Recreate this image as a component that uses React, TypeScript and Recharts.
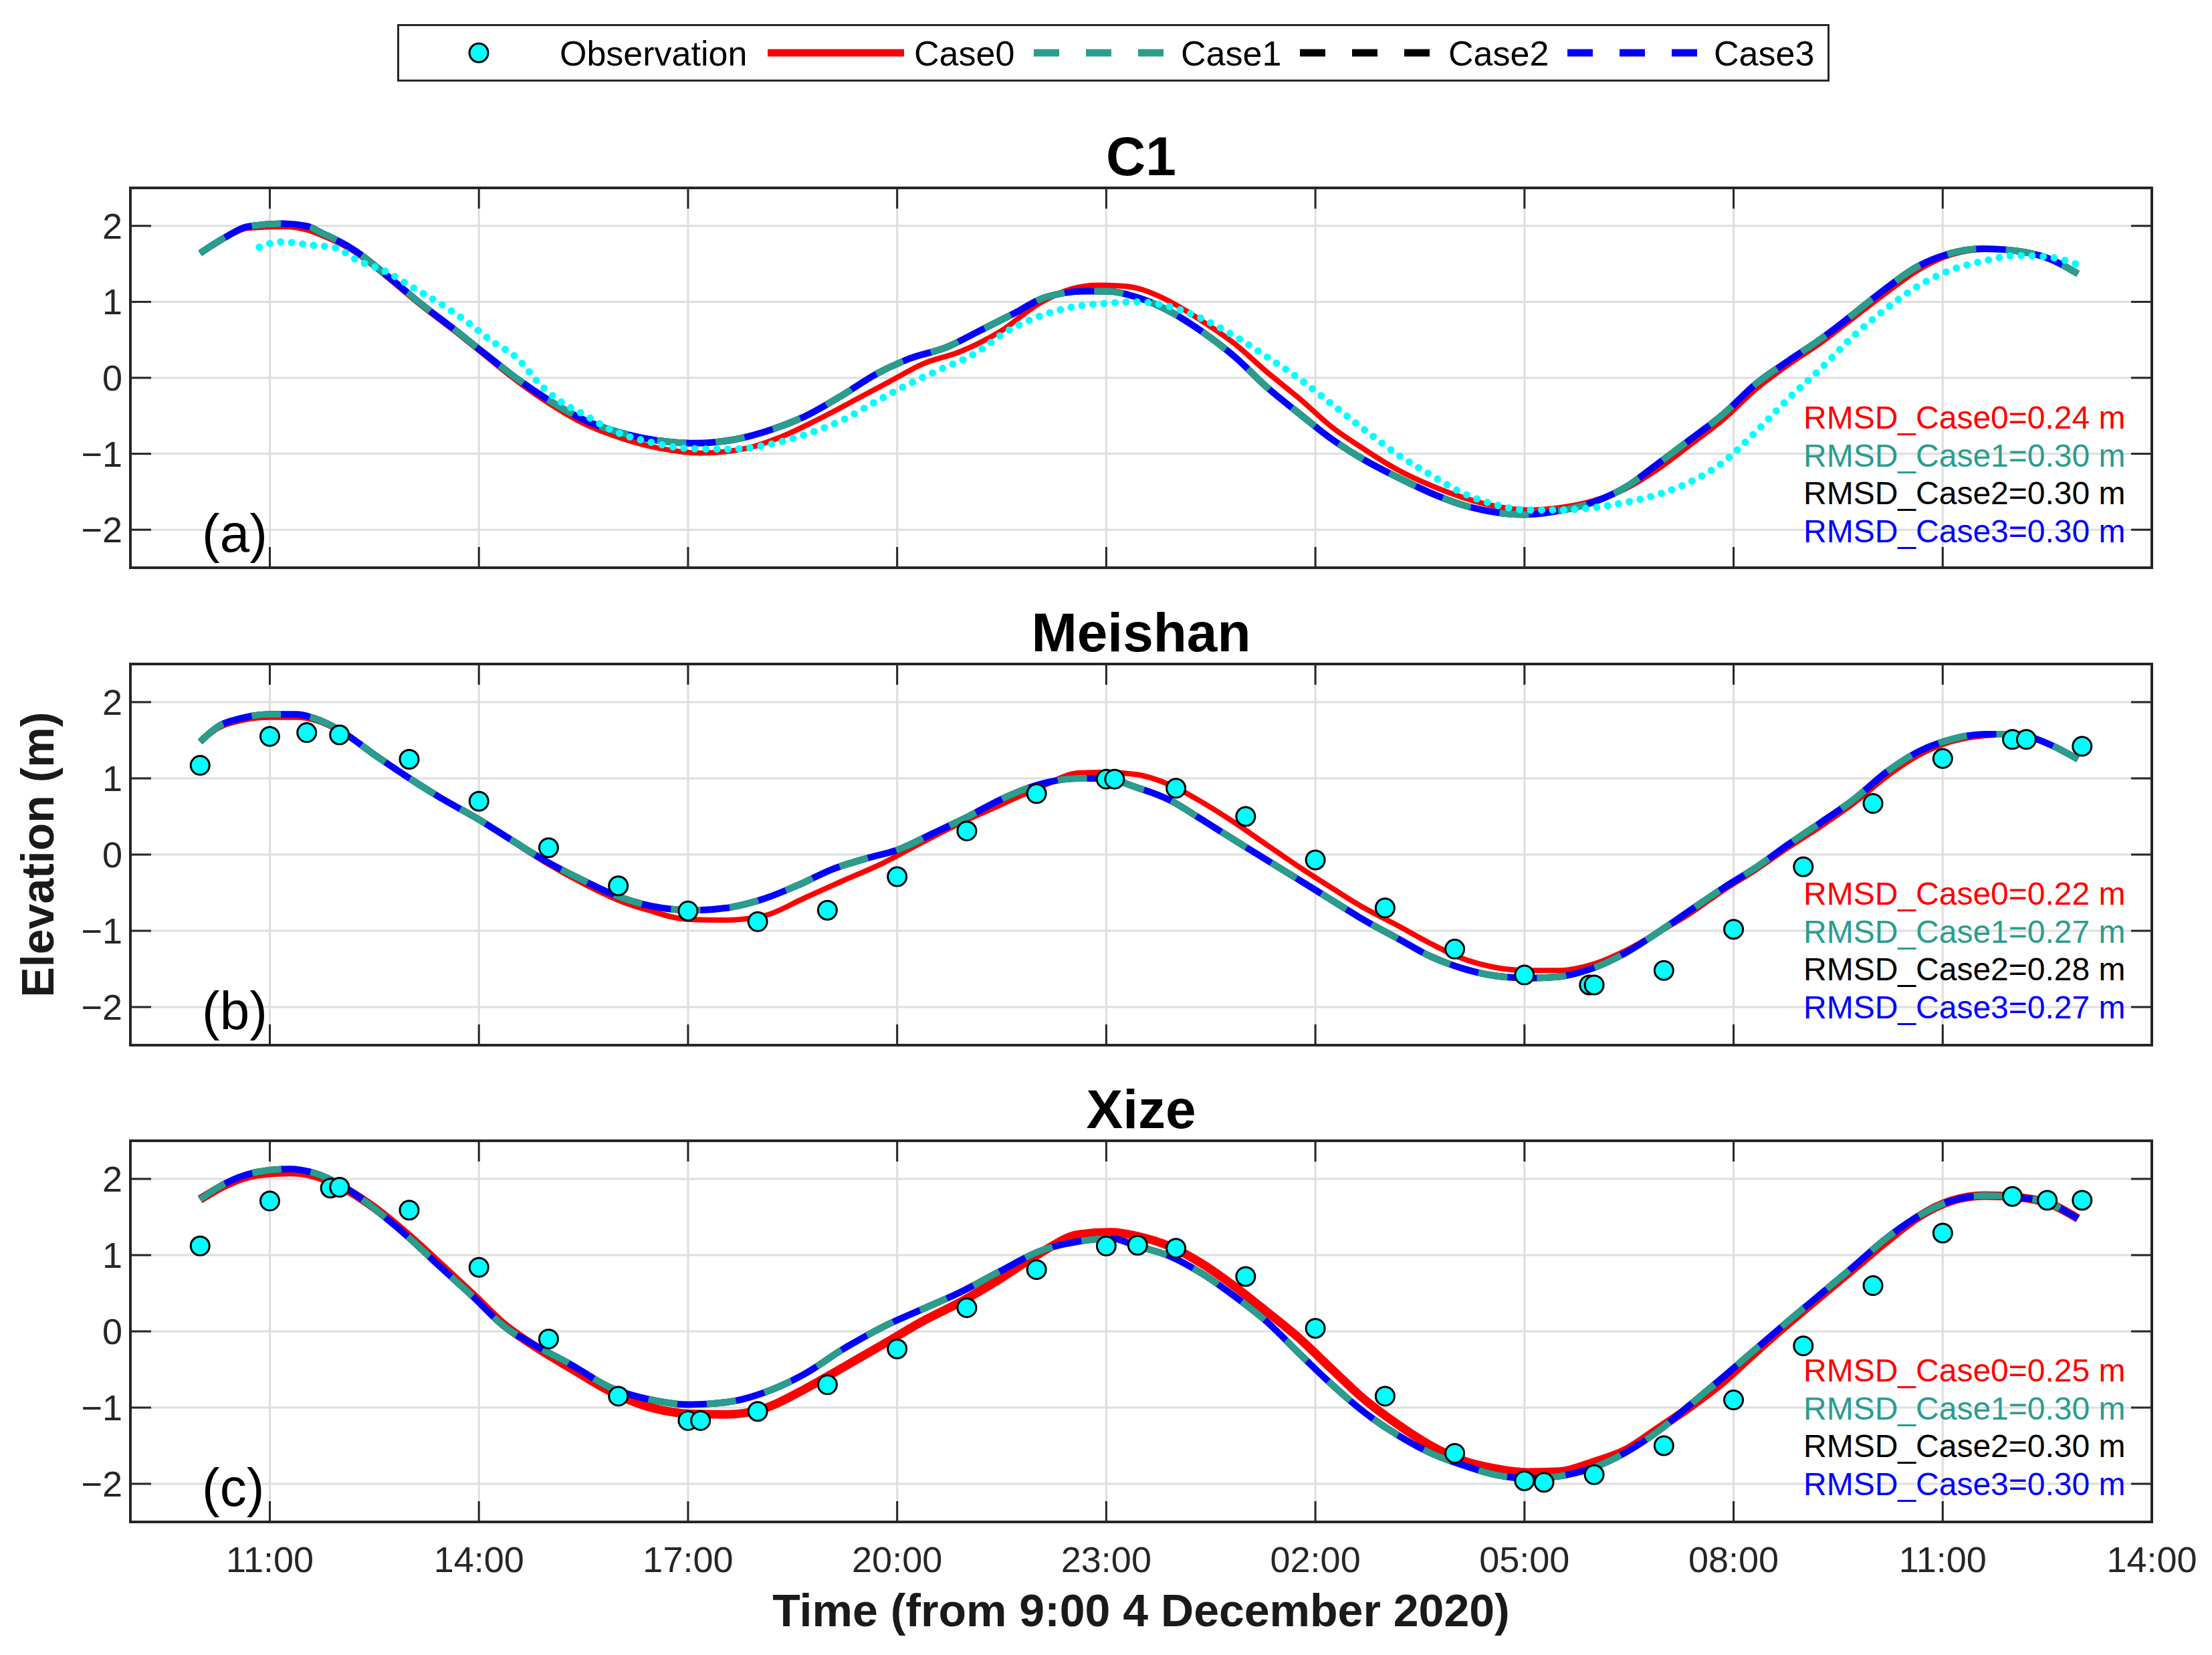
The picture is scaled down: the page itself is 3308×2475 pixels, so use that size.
import React from 'react';
import { ComposedChart, Line, XAxis, YAxis, CartesianGrid, Legend } from 'recharts';

const FONT = '"Liberation Sans", Arial, Helvetica, sans-serif';
const AXIS = '#262626';
const GRID = '#dedede';
const RED = '#ff0000';
const TEAL = '#2a9d8f';
const BLUE = '#0000ff';
const BLACK = '#000000';
const CYAN = '#00ffff';
const CASE_COLORS = [RED, TEAL, BLACK, BLUE];

// ---- axes (x = hours since 09:00 4 December 2020) ----
const X_TICKS = [2, 5, 8, 11, 14, 17, 20, 23, 26, 29];
const X_TICK_LABELS = ['11:00', '14:00', '17:00', '20:00', '23:00', '02:00', '05:00', '08:00', '11:00', '14:00'];
const Y_TICKS = [-2, -1, 0, 1, 2];
const Y_TICK_LABELS = ['\u22122', '\u22121', '0', '1', '2'];

const SERIES_NAMES = ['Observation', 'Case0', 'Case1', 'Case2', 'Case3'];
const PANEL_TITLES = ['C1', 'Meishan', 'Xize'];
const PANEL_TAGS = ['(a)', '(b)', '(c)'];
const RMSD_A = ['0.24', '0.30', '0.30', '0.30'];
const RMSD_B = ['0.22', '0.27', '0.28', '0.27'];
const RMSD_C = ['0.25', '0.30', '0.30', '0.30'];

// ---- (a) C1 ----
const A_T = [1, 1.36, 1.68, 2.2, 2.52, 2.76, 3.18, 3.69, 4.16, 4.63, 5, 5.56, 6.03, 6.5, 7.06, 7.6, 8.08, 8.55, 9.1, 9.67, 10.23, 10.7, 11.17, 11.73, 12.1, 12.66, 13.13, 13.69, 14, 14.44, 14.9, 15.37, 15.84, 16.3, 16.78, 17.24, 17.7, 18.18, 18.64, 19.1, 19.58, 20, 20.5, 20.98, 21.45, 21.9, 22.38, 22.85, 23.32, 23.78, 24.25, 24.72, 25.19, 25.65, 26.12, 26.6, 27.06, 27.52, 27.94];
const A_CASE1 = [1.64, 1.85, 1.99, 2.03, 2.0, 1.9, 1.7, 1.34, 0.98, 0.65, 0.38, -0.02, -0.31, -0.55, -0.73, -0.83, -0.86, -0.83, -0.71, -0.51, -0.22, 0.05, 0.25, 0.41, 0.58, 0.84, 1.06, 1.14, 1.14, 1.06, 0.88, 0.61, 0.28, -0.12, -0.48, -0.81, -1.08, -1.31, -1.51, -1.67, -1.77, -1.8, -1.75, -1.64, -1.44, -1.14, -0.81, -0.48, -0.08, 0.22, 0.51, 0.84, 1.18, 1.47, 1.64, 1.7, 1.67, 1.57, 1.37];
// Case2 and Case3 cannot be told apart from Case1 in the figure
const A_CASE2 = A_CASE1;
const A_CASE3 = A_CASE1;
const A_T0 = [1, 1.36, 1.68, 2.2, 2.52, 2.76, 3.18, 3.69, 4.16, 4.63, 5, 5.56, 6.03, 6.5, 7.06, 7.6, 8.18, 8.83, 9.3, 9.86, 10.42, 10.89, 11.36, 11.92, 12.48, 13.04, 13.5, 13.88, 14.2, 14.44, 14.9, 15.37, 15.84, 16.3, 16.78, 17.24, 17.7, 18.18, 18.64, 19.1, 19.58, 20.05, 20.5, 20.98, 21.45, 21.9, 22.38, 22.85, 23.32, 23.78, 24.25, 24.72, 25.19, 25.65, 26.12, 26.6, 27.06, 27.52, 27.94];
const A_CASE0 = [1.64, 1.84, 1.97, 1.99, 1.95, 1.87, 1.68, 1.32, 0.96, 0.63, 0.36, -0.05, -0.35, -0.6, -0.8, -0.93, -0.99, -0.93, -0.79, -0.55, -0.28, -0.05, 0.18, 0.35, 0.61, 0.98, 1.17, 1.22, 1.21, 1.18, 1.01, 0.75, 0.45, 0.08, -0.28, -0.65, -0.94, -1.21, -1.41, -1.57, -1.69, -1.74, -1.71, -1.62, -1.46, -1.21, -0.88, -0.55, -0.15, 0.17, 0.46, 0.79, 1.12, 1.42, 1.62, 1.69, 1.67, 1.57, 1.37];
const A_OBS_T = [1.85, 2.15, 2.57, 2.94, 3.27, 3.64, 4.07, 4.44, 4.81, 5.19, 5.56, 5.84, 6.12, 6.5, 6.96, 7.43, 8.0, 8.55, 9.1, 9.67, 10.23, 10.7, 11.17, 11.64, 12.1, 12.57, 13.04, 13.5, 14.0, 14.44, 14.9, 15.37, 15.84, 16.3, 16.78, 17.24, 17.7, 18.18, 18.64, 19.1, 19.58, 20.05, 20.5, 20.98, 21.45, 21.9, 22.38, 22.85, 23.32, 23.78, 24.25, 24.72, 25.19, 25.65, 26.12, 26.6, 27.06, 27.52, 27.94];
const A_OBS = [1.72, 1.79, 1.75, 1.71, 1.54, 1.41, 1.18, 0.98, 0.75, 0.48, 0.25, -0.05, -0.28, -0.48, -0.71, -0.84, -0.93, -0.94, -0.89, -0.75, -0.55, -0.31, -0.08, 0.12, 0.31, 0.61, 0.81, 0.93, 0.98, 1.0, 0.94, 0.78, 0.55, 0.28, -0.02, -0.35, -0.68, -1.01, -1.27, -1.51, -1.67, -1.74, -1.74, -1.71, -1.64, -1.54, -1.37, -1.11, -0.71, -0.28, 0.12, 0.55, 0.91, 1.21, 1.42, 1.54, 1.61, 1.59, 1.49];

// ---- (b) Meishan ----
const B_T = [1, 1.26, 1.6, 2.0, 2.38, 2.66, 3.04, 3.5, 3.97, 4.44, 5, 5.47, 5.93, 6.5, 7.06, 7.62, 8.08, 8.55, 9.02, 9.58, 10.05, 10.6, 11, 11.54, 12.0, 12.48, 13.04, 13.6, 13.97, 14.44, 14.9, 15.37, 15.84, 16.3, 16.78, 17.24, 17.7, 18.18, 18.64, 19.1, 19.58, 20.05, 20.5, 20.98, 21.45, 21.9, 22.38, 22.85, 23.32, 23.78, 24.25, 24.72, 25.19, 25.65, 26.12, 26.6, 27.06, 27.52, 27.94];
const B_CASE1 = [1.48, 1.68, 1.79, 1.84, 1.84, 1.78, 1.61, 1.31, 1.02, 0.75, 0.46, 0.19, -0.07, -0.34, -0.57, -0.7, -0.73, -0.7, -0.6, -0.4, -0.2, -0.04, 0.06, 0.29, 0.49, 0.72, 0.92, 1.0, 1.0, 0.88, 0.72, 0.46, 0.19, -0.07, -0.34, -0.6, -0.86, -1.1, -1.33, -1.49, -1.59, -1.62, -1.6, -1.49, -1.29, -1.03, -0.73, -0.44, -0.17, 0.13, 0.42, 0.72, 1.08, 1.35, 1.51, 1.58, 1.58, 1.45, 1.25];
const B_CASE2 = B_CASE1;
const B_CASE3 = B_CASE1;
const B_T0 = [1, 1.26, 1.6, 2.0, 2.38, 2.66, 3.04, 3.5, 3.97, 4.44, 5, 5.47, 5.93, 6.5, 7.06, 7.43, 8.0, 8.55, 9.1, 9.67, 10.23, 10.8, 11.36, 11.92, 12.48, 13.04, 13.6, 13.97, 14.44, 14.9, 15.37, 15.84, 16.3, 16.78, 17.24, 17.7, 18.18, 18.64, 19.1, 19.58, 20.05, 20.5, 20.98, 21.45, 21.9, 22.38, 22.85, 23.32, 23.78, 24.25, 24.72, 25.19, 25.65, 26.12, 26.6, 27.06, 27.52, 27.94];
const B_CASE0 = [1.48, 1.66, 1.76, 1.8, 1.8, 1.76, 1.6, 1.31, 1.02, 0.75, 0.46, 0.18, -0.09, -0.38, -0.62, -0.73, -0.85, -0.86, -0.8, -0.57, -0.34, -0.11, 0.16, 0.42, 0.65, 0.88, 1.07, 1.08, 1.05, 0.92, 0.69, 0.42, 0.13, -0.17, -0.44, -0.7, -0.93, -1.16, -1.36, -1.48, -1.52, -1.52, -1.44, -1.26, -1.03, -0.77, -0.47, -0.2, 0.09, 0.37, 0.67, 1.02, 1.3, 1.48, 1.56, 1.58, 1.45, 1.26];
const B_OBS_T = [1, 2, 2.53, 3, 4, 5, 6, 7, 8, 9, 10, 11, 12, 13, 14, 14.12, 15, 16, 17, 18, 19, 20, 20.93, 21, 22, 23, 24, 25, 26, 27, 27.2, 28];
const B_OBS = [1.17, 1.55, 1.6, 1.57, 1.25, 0.7, 0.09, -0.41, -0.74, -0.88, -0.73, -0.29, 0.31, 0.8, 0.99, 0.99, 0.87, 0.5, -0.07, -0.7, -1.24, -1.58, -1.71, -1.71, -1.52, -0.98, -0.16, 0.67, 1.26, 1.51, 1.51, 1.42];

// ---- (c) Xize ----
const C_T = [1, 1.36, 1.82, 2.29, 2.66, 3.04, 3.5, 3.97, 4.44, 4.91, 5.37, 5.84, 6.31, 6.87, 7.43, 8.0, 8.55, 9.1, 9.67, 10.23, 10.8, 11.36, 11.92, 12.48, 13.04, 13.6, 14.07, 14.44, 14.9, 15.37, 15.84, 16.3, 16.78, 17.24, 17.7, 18.18, 18.64, 19.1, 19.58, 20.05, 20.5, 20.98, 21.45, 21.9, 22.38, 22.85, 23.32, 23.78, 24.25, 24.72, 25.19, 25.65, 26.12, 26.6, 27.06, 27.52, 27.94];
const C_CASE1 = [1.73, 1.94, 2.09, 2.13, 2.07, 1.91, 1.61, 1.25, 0.85, 0.46, 0.06, -0.2, -0.43, -0.73, -0.89, -0.96, -0.93, -0.8, -0.56, -0.23, 0.06, 0.29, 0.52, 0.79, 1.05, 1.18, 1.22, 1.12, 0.99, 0.76, 0.46, 0.13, -0.3, -0.7, -1.06, -1.36, -1.59, -1.75, -1.88, -1.93, -1.9, -1.79, -1.59, -1.32, -0.96, -0.6, -0.23, 0.13, 0.49, 0.85, 1.22, 1.51, 1.71, 1.78, 1.76, 1.68, 1.48];
const C_CASE2 = C_CASE1;
const C_CASE3 = C_CASE1;
const C_CASE0 = [1.73, 1.92, 2.06, 2.09, 2.04, 1.89, 1.62, 1.27, 0.88, 0.48, 0.08, -0.22, -0.48, -0.78, -0.99, -1.08, -1.09, -1.01, -0.76, -0.47, -0.17, 0.13, 0.39, 0.69, 1.02, 1.27, 1.3, 1.25, 1.12, 0.89, 0.59, 0.26, -0.1, -0.5, -0.89, -1.22, -1.49, -1.69, -1.8, -1.85, -1.84, -1.72, -1.56, -1.29, -0.99, -0.66, -0.27, 0.1, 0.46, 0.82, 1.18, 1.5, 1.71, 1.78, 1.76, 1.68, 1.48];
const C_OBS_T = [1, 2, 2.87, 3, 4, 5, 6, 7, 8, 8.18, 9, 10, 11, 12, 13, 14, 14.45, 15, 16, 17, 18, 19, 20, 20.28, 21, 22, 23, 24, 25, 26, 27, 27.5, 28];
const C_OBS = [1.12, 1.71, 1.88, 1.89, 1.59, 0.84, -0.1, -0.85, -1.17, -1.17, -1.05, -0.7, -0.23, 0.31, 0.81, 1.12, 1.13, 1.09, 0.72, 0.04, -0.85, -1.6, -1.96, -1.98, -1.88, -1.5, -0.9, -0.19, 0.6, 1.29, 1.77, 1.72, 1.72];

type Pt = { t: number; v: number };
const pts = (t: number[], v: number[]): Pt[] => t.map((x, i) => ({ t: x, v: v[i] }));

// ---- layout (page pixels) ----
const PAGE_W = 3308;
const PAGE_H = 2475;
const PLOT_LEFT = 195;
const PLOT_RIGHT = 3218;
const TICK_LEN = 31;

function BottomTick(props: any) {
  const { x, y, payload, show } = props;
  const idx = X_TICKS.indexOf(payload.value);
  return (
    <g>
      <line x1={x} y1={y} x2={x} y2={y - TICK_LEN} stroke={AXIS} strokeWidth={3} />
      {show && (
        <text x={x} y={y + 75} textAnchor="middle" fontSize={54} fontFamily={FONT} fill={AXIS}>
          {X_TICK_LABELS[idx]}
        </text>
      )}
    </g>
  );
}
function TopTick(props: any) {
  const { x, y } = props;
  return <line x1={x} y1={y} x2={x} y2={y + TICK_LEN} stroke={AXIS} strokeWidth={3} />;
}
function LeftTick(props: any) {
  const { x, y, payload } = props;
  const idx = Y_TICKS.indexOf(payload.value);
  return (
    <g>
      <line x1={x} y1={y} x2={x + TICK_LEN} y2={y} stroke={AXIS} strokeWidth={3} />
      <text x={x - 12} y={y + 19} textAnchor="end" fontSize={54} fontFamily={FONT} fill={AXIS}>
        {Y_TICK_LABELS[idx]}
      </text>
    </g>
  );
}
function RightTick(props: any) {
  const { x, y } = props;
  return <line x1={x} y1={y} x2={x - TICK_LEN} y2={y} stroke={AXIS} strokeWidth={3} />;
}

function LegendBox() {
  const lineY = 43;
  const textY = 62;
  const txt = (x: number, s: string) => (
    <text x={x} y={textY} fontSize={52} fontFamily={FONT} fill="#000">{s}</text>
  );
  return (
    <svg width={2142} height={86} style={{ display: 'block' }}>
      <rect x={1.5} y={1.5} width={2139} height={83} fill="#fff" stroke={AXIS} strokeWidth={3} />
      <circle cx={122} cy={lineY} r={14} fill={CYAN} stroke="#000" strokeWidth={3} />
      {txt(243, SERIES_NAMES[0])}
      <line x1={554} y1={lineY} x2={758} y2={lineY} stroke={RED} strokeWidth={11} />
      {txt(773, SERIES_NAMES[1])}
      <line x1={952} y1={lineY} x2={1146} y2={lineY} stroke={TEAL} strokeWidth={11} strokeDasharray="38 40" />
      {txt(1172, SERIES_NAMES[2])}
      <line x1={1350} y1={lineY} x2={1544} y2={lineY} stroke={BLACK} strokeWidth={11} strokeDasharray="38 40" />
      {txt(1572, SERIES_NAMES[3])}
      <line x1={1750} y1={lineY} x2={1944} y2={lineY} stroke={BLUE} strokeWidth={11} strokeDasharray="38 40" />
      {txt(1969, SERIES_NAMES[4])}
    </svg>
  );
}

type PanelProps = {
  top: number;
  height: number;
  marginTop: number;
  bottomH: number;
  showXLabels: boolean;
  case0: Pt[];
  case1: Pt[];
  case2: Pt[];
  case3: Pt[];
  obs: Pt[];
  obsDotted: boolean;
  redWidth: number;
  legend?: boolean;
};

function ObsDot(props: any) {
  const { cx, cy, index } = props;
  if (cx == null || cy == null) return <g key={`o${index}`} />;
  return <circle key={`o${index}`} cx={cx} cy={cy} r={14} fill={CYAN} stroke="#000" strokeWidth={3} />;
}

function Panel(p: PanelProps) {
  const axisLine = { stroke: AXIS, strokeWidth: 4, strokeLinecap: 'square' as const };
  return (
    <div style={{ position: 'absolute', left: 0, top: p.top, width: PAGE_W, height: p.height }}>
      <ComposedChart
        width={PAGE_W}
        height={p.height}
        margin={{ top: p.marginTop, right: PAGE_W - PLOT_RIGHT - 10, bottom: 0, left: PLOT_LEFT - 120 }}
      >
        <CartesianGrid xAxisId="b" yAxisId="l" stroke={GRID} strokeWidth={3} />
        <XAxis
          xAxisId="b"
          dataKey="t"
          type="number"
          domain={[0, 29]}
          ticks={X_TICKS}
          interval={0}
          allowDataOverflow
          orientation="bottom"
          height={p.bottomH}
          tickSize={0}
          tickMargin={0}
          axisLine={axisLine}
          tick={(tp: any) => <BottomTick {...tp} show={p.showXLabels} />}
        />
        <XAxis
          xAxisId="t"
          dataKey="t"
          type="number"
          domain={[0, 29]}
          ticks={X_TICKS}
          interval={0}
          allowDataOverflow
          orientation="top"
          height={20}
          tickSize={0}
          tickMargin={0}
          axisLine={axisLine}
          tick={(tp: any) => <TopTick {...tp} />}
        />
        <YAxis
          yAxisId="l"
          type="number"
          domain={[-2.5, 2.5]}
          ticks={Y_TICKS}
          interval={0}
          allowDataOverflow
          width={120}
          tickSize={0}
          tickMargin={0}
          axisLine={axisLine}
          tick={(tp: any) => <LeftTick {...tp} />}
        />
        <YAxis
          yAxisId="r"
          orientation="right"
          type="number"
          domain={[-2.5, 2.5]}
          ticks={Y_TICKS}
          interval={0}
          allowDataOverflow
          width={10}
          tickSize={0}
          tickMargin={0}
          axisLine={axisLine}
          tick={(tp: any) => <RightTick {...tp} />}
        />
        <Line xAxisId="b" yAxisId="l" data={p.case0} dataKey="v" name="Case0" type="monotone" stroke={RED} strokeWidth={p.redWidth} dot={false} activeDot={false} isAnimationActive={false} />
        <Line xAxisId="b" yAxisId="l" data={p.case2} dataKey="v" name="Case2" type="monotone" stroke={BLACK} strokeWidth={10} strokeDasharray="44 44" dot={false} activeDot={false} isAnimationActive={false} />
        <Line xAxisId="b" yAxisId="l" data={p.case1} dataKey="v" name="Case1" type="monotone" stroke={TEAL} strokeWidth={10} strokeDasharray="44 44" dot={false} activeDot={false} isAnimationActive={false} />
        <Line xAxisId="b" yAxisId="l" data={p.case3} dataKey="v" name="Case3" type="monotone" stroke={BLUE} strokeWidth={10} strokeDasharray="0 44 44 0" dot={false} activeDot={false} isAnimationActive={false} />
        {p.obsDotted ? (
          <Line xAxisId="b" yAxisId="l" data={p.obs} dataKey="v" name="Observation" type="monotone" stroke={CYAN} strokeWidth={11} strokeLinecap="round" strokeDasharray="0 16.5" dot={false} activeDot={false} isAnimationActive={false} />
        ) : (
          <Line xAxisId="b" yAxisId="l" data={p.obs} dataKey="v" name="Observation" type="linear" stroke="none" dot={(dp: any) => <ObsDot {...dp} />} activeDot={false} isAnimationActive={false} />
        )}
        {p.legend && (
          <Legend
            layout="horizontal"
            verticalAlign="middle"
            align="center"
            content={() => <LegendBox />}
            wrapperStyle={{ position: 'absolute', left: 594, top: 36, width: 2142, height: 86, margin: 0, padding: 0 }}
          />
        )}
      </ComposedChart>
    </div>
  );
}

const PLOT_TOPS = [281, 993, 1706];
const PLOT_BOTTOMS = [849, 1563, 2276];
const RMSDS = [RMSD_A, RMSD_B, RMSD_C];

function Annotations() {
  const cx = (PLOT_LEFT + PLOT_RIGHT) / 2;
  return (
    <svg width={PAGE_W} height={PAGE_H} style={{ position: 'absolute', left: 0, top: 0, pointerEvents: 'none' }}>
      {PANEL_TITLES.map((s, i) => (
        <text key={`t${i}`} x={cx} y={PLOT_TOPS[i] - 19} textAnchor="middle" fontSize={82} fontWeight="bold" fontFamily={FONT} fill="#000">
          {s}
        </text>
      ))}
      {PANEL_TAGS.map((s, i) => (
        <text key={`g${i}`} x={302} y={PLOT_BOTTOMS[i] - 24} fontSize={80} fontFamily={FONT} fill="#000">
          {s}
        </text>
      ))}
      {RMSDS.map((r, i) =>
        r.map((val, k) => (
          <text key={`r${i}${k}`} x={2697} y={PLOT_TOPS[i] + 360 + k * 56.5} fontSize={48} fontFamily={FONT} fill={CASE_COLORS[k]}>
            {`RMSD_${SERIES_NAMES[k + 1]}=${val} m`}
          </text>
        ))
      )}
      <text transform="translate(80,1278) rotate(-90)" textAnchor="middle" fontSize={68} fontWeight="bold" fontFamily={FONT} fill="#1a1a1a">
        Elevation (m)
      </text>
      <text x={cx} y={2432} textAnchor="middle" fontSize={68} fontWeight="bold" fontFamily={FONT} fill="#1a1a1a">
        Time (from 9:00 4 December 2020)
      </text>
    </svg>
  );
}

export default function App() {
  return (
    <div style={{ position: 'absolute', left: 0, top: 0, width: PAGE_W, height: PAGE_H, background: '#fff', overflow: 'hidden', fontFamily: FONT }}>
      <Panel
        top={0}
        height={869}
        marginTop={261}
        bottomH={20}
        showXLabels={false}
        case0={pts(A_T0, A_CASE0)}
        case1={pts(A_T, A_CASE1)}
        case2={pts(A_T, A_CASE2)}
        case3={pts(A_T, A_CASE3)}
        obs={pts(A_OBS_T, A_OBS)}
        obsDotted
        redWidth={8}
        legend
      />
      <Panel
        top={973}
        height={610}
        marginTop={0}
        bottomH={20}
        showXLabels={false}
        case0={pts(B_T0, B_CASE0)}
        case1={pts(B_T, B_CASE1)}
        case2={pts(B_T, B_CASE2)}
        case3={pts(B_T, B_CASE3)}
        obs={pts(B_OBS_T, B_OBS)}
        obsDotted={false}
        redWidth={8}
      />
      <Panel
        top={1686}
        height={710}
        marginTop={0}
        bottomH={120}
        showXLabels
        case0={pts(C_T, C_CASE0)}
        case1={pts(C_T, C_CASE1)}
        case2={pts(C_T, C_CASE2)}
        case3={pts(C_T, C_CASE3)}
        obs={pts(C_OBS_T, C_OBS)}
        obsDotted={false}
        redWidth={13}
      />
      <Annotations />
    </div>
  );
}
